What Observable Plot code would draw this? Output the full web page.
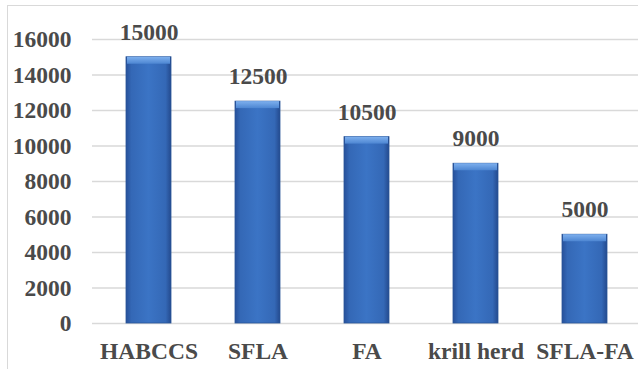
<!DOCTYPE html>
<html><head><meta charset="utf-8">
<script src="https://cdn.jsdelivr.net/npm/d3@7"></script>
<script src="https://cdn.jsdelivr.net/npm/@observablehq/plot@0.6"></script>
<style>
html,body{margin:0;padding:0;background:#fff;overflow:hidden;width:638px;height:369px;}
#frame{position:absolute;left:7px;top:5px;width:640px;height:380px;border-left:1.5px solid #d9d9d9;border-top:1.5px solid #d9d9d9;box-sizing:border-box;}
#chart{position:absolute;left:0;top:0;}
</style></head>
<body>
<div id="frame"></div>
<div id="chart"></div>
<script>
const categories = ["HABCCS", "SFLA", "FA", "krill herd", "SFLA-FA"];
const values = [15000, 12500, 10500, 9000, 5000];
const yTicks = [0, 2000, 4000, 6000, 8000, 10000, 12000, 14000, 16000];

const data = categories.map((c, i) => ({cat: c, val: values[i]}));
const font = "Liberation Serif";
const txt = "#4a4a4a";

const plot = Plot.plot({
  width: 638,
  height: 369,
  marginLeft: 92,
  marginRight: 0,
  marginTop: 39,
  marginBottom: 46,
  style: {fontSize: "23.5px", color: txt, background: "transparent", overflow: "visible"},
  x: {domain: categories, range: [92, 640], paddingInner: 0.59, paddingOuter: 0.295, label: null},
  y: {domain: [0, 16000], ticks: yTicks, label: null},
  marks: [
    Plot.ruleY(yTicks, {stroke: "#d9d9d9", strokeWidth: 1.5}),
    Plot.barY(data, {x: "cat", y: "val", fill: "url(#barGrad)", stroke: "#2a5598", strokeWidth: 0.8}),
    Plot.barY(data, {x: "cat", y1: "val", y2: "val", insetBottom: -7, insetLeft: 1, insetRight: 1, fill: "url(#bevelGrad)"}),
    Plot.text(data, {x: "cat", y: "val", text: d => String(d.val), dy: -25, fill: txt, fontSize: 23.5, fontWeight: "bold"}),
    Plot.axisY({ticks: yTicks, tickSize: 0, tickPadding: 21, fontSize: 23.5, fill: txt, tickFormat: d => String(d)}),
    Plot.axisX({tickSize: 0, tickPadding: 19, fontSize: 23.5, fill: txt})
  ]
});

const svg = d3.select(plot);
svg.attr("font-family", font).style("font-family", font).style("font-weight", "bold");
svg.selectAll("g, text").attr("font-family", font).style("font-family", font).attr("font-weight", "bold").style("font-weight", "bold").style("font-variant", "normal");
const defs = svg.insert("defs", ":first-child");
const g = defs.append("linearGradient").attr("id", "barGrad").attr("x1", "0").attr("x2", "1").attr("y1", "0").attr("y2", "0");
g.append("stop").attr("offset", "0%").attr("stop-color", "#27509a");
g.append("stop").attr("offset", "12%").attr("stop-color", "#3468b6");
g.append("stop").attr("offset", "50%").attr("stop-color", "#3b74c5");
g.append("stop").attr("offset", "88%").attr("stop-color", "#3468b6");
g.append("stop").attr("offset", "100%").attr("stop-color", "#244a8e");
const b = defs.append("linearGradient").attr("id", "bevelGrad").attr("x1", "0").attr("x2", "0").attr("y1", "0").attr("y2", "1");
b.append("stop").attr("offset", "0%").attr("stop-color", "#7eb0ee");
b.append("stop").attr("offset", "100%").attr("stop-color", "#4d86d2");

document.getElementById("chart").appendChild(plot);
</script>
</body></html>
